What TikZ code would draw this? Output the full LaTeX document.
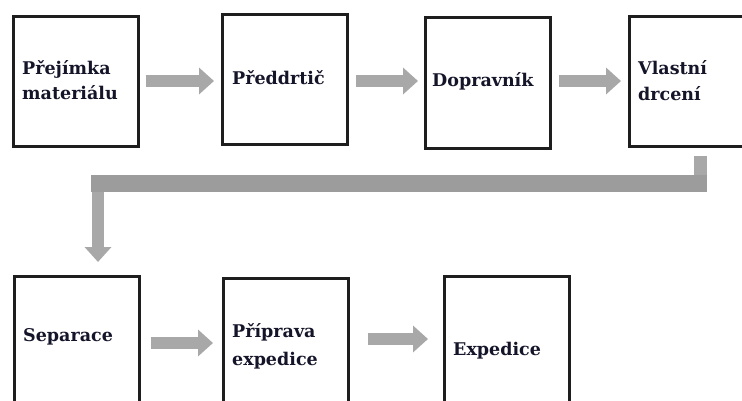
\documentclass[tikz,border=0pt]{standalone}
\usepackage{fontspec}
\setmainfont{DejaVu Serif}
\usetikzlibrary{arrows.meta}
\definecolor{arrowgray}{HTML}{A8A8A8}
\definecolor{bargray}{HTML}{9C9C9C}
\definecolor{boxline}{HTML}{1E1E1E}
\definecolor{txt}{HTML}{15152A}
\tikzset{
  box/.style={draw=boxline, line width=2.6pt, fill=white, inner sep=0pt, anchor=north west, minimum width=125pt},
  lbl/.style={anchor=base west, inner sep=0pt, text width=115pt, align=left, font=\bfseries\fontsize{17.5}{25}\selectfont, text=txt},
  flow/.style={draw=arrowgray, line width=12pt, -{Triangle[width=26pt,length=15pt]}},
}
\begin{document}
\begin{tikzpicture}[x=1pt,y=-1pt]
\useasboundingbox (0,0) rectangle (742,401);
\clip (0,0) rectangle (742,401);
% boxes
\node[box, minimum height=130pt] (b1) at (12,15) {};
\node[box, minimum height=130pt] (b2) at (221,13) {};
\node[box, minimum height=131pt] (b3) at (424,16) {};
\node[box, minimum height=130pt] (b4) at (628,15) {};
\node[box, minimum height=140pt] (b5) at (13,275) {};
\node[box, minimum height=140pt] (b6) at (222,277) {};
\node[box, minimum height=140pt] (b7) at (443,275) {};
% labels
\node[lbl] (t1) at (22,75) {Přejímka\\materiálu};
\node[lbl] (t2) at (232,85) {Předdrtič};
\node[lbl] (t3) at (432,87) {Dopravník};
\node[lbl] (t4) at (638,75) {Vlastní\\[1pt]drcení};
\node[lbl] (t5) at (23,341) {Separace};
\node[lbl] (t6) at (232,337) {Příprava\\[3pt]expedice};
\node[lbl] (t7) at (453,355) {Expedice};
% row 1 arrows
\draw[flow, shorten <=6pt, shorten >=7pt] (b1.east |- 0,81) -- (b2.west |- 0,81);
\draw[flow, shorten <=7pt, shorten >=6pt] (b2.east |- 0,81) -- (b3.west |- 0,81);
\draw[flow, shorten <=7pt, shorten >=7pt] (b3.east |- 0,81) -- (b4.west |- 0,81);
% bent connector
\coordinate (bend) at (98,183.5);
\draw[draw=arrowgray, line width=13pt, shorten <=8pt] (b4.south -| 700.5,0) -- (700.5,190);
\draw[flow, shorten >=13pt] (bend) -- (b5.north -| 98,0);
\coordinate (hb1) at (91,175);
\coordinate (hb2) at (707,192);
\fill[bargray] (hb1) rectangle (hb2);
% row 2 arrows
\draw[flow, shorten <=10pt, shorten >=9pt] (b5.east |- 0,343) -- (b6.west |- 0,343);
\draw[flow, shorten <=18pt, shorten >=15pt] (b6.east |- 0,339) -- (b7.west |- 0,339);
\end{tikzpicture}
\end{document}
